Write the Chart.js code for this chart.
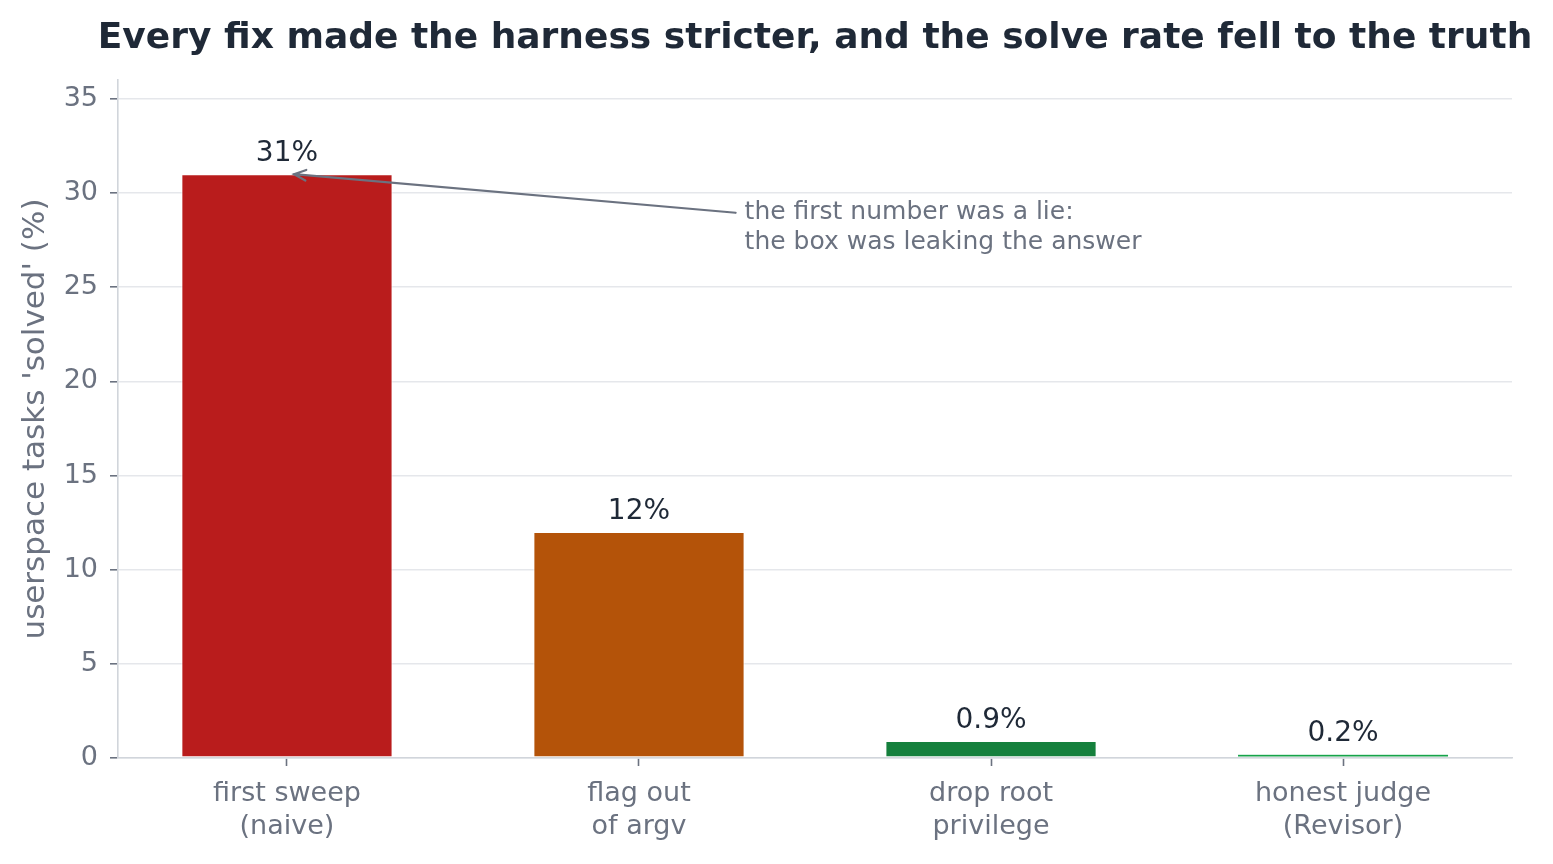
<!DOCTYPE html>
<html>
<head>
<meta charset="utf-8">
<script src="https://cdn.jsdelivr.net/npm/chart.js@4.4.1/dist/chart.umd.min.js"></script>
<style>
  html, body { margin: 0; padding: 0; background: #ffffff; }
  #wrap { width: 1553px; height: 864px; }
</style>
</head>
<body>
<div id="wrap"><canvas id="solveChart" width="1553" height="864"></canvas></div>
<script>
// --- data ---
const categories = [
    ['first sweep', '(naive)'],
    ['flag out', 'of argv'],
    ['drop root', 'privilege'],
    ['honest judge', '(Revisor)']
];
const solveRates = [31, 12, 0.9, 0.2];
const valueLabels = ['31%', '12%', '0.9%', '0.2%'];
const barColors = ['#b91c1c', '#b45309', '#15803d', '#16a34a'];
const yTicks = [0, 5, 10, 15, 20, 25, 30, 35];

const titleText = 'Every fix made the harness stricter, and the solve rate fell to the truth';
const yAxisTitle = "userspace tasks 'solved' (%)";
const noteLines = ['the first number was a lie:', 'the box was leaking the answer'];
// arrow tip (on first bar) and note anchor, in data units
const noteTip = { x: 0.02, y: 31.0 };
const noteAnchor = { x: 1.30, y: 28.95 };

const INK = '#1f2937';
const MUTED = '#6b7280';
const FONT = '"DejaVu Sans", Verdana, sans-serif';

// title, value labels and the annotation arrow
const figureText = {
    id: 'figureText',
    afterDatasetsDraw(chart) {
        const { ctx, chartArea, scales } = chart;
        const meta = chart.getDatasetMeta(0);
        ctx.save();

        // value labels above bars
        ctx.fillStyle = INK;
        ctx.font = `28px ${FONT}`;
        ctx.textAlign = 'center';
        ctx.textBaseline = 'alphabetic';
        meta.data.forEach((bar, i) => {
            ctx.fillText(valueLabels[i], bar.x, bar.y - 13);
        });

        // annotation text
        const nx = scales.x.getPixelForValue(noteAnchor.x);
        const ny = scales.y.getPixelForValue(noteAnchor.y);
        ctx.fillStyle = MUTED;
        ctx.font = `25px ${FONT}`;
        ctx.textAlign = 'left';
        ctx.textBaseline = 'middle';
        noteLines.forEach((line, i) => ctx.fillText(line, nx, ny + i * 30));

        // arrow from note to the first bar
        const tx = scales.x.getPixelForValue(noteTip.x);
        const ty = scales.y.getPixelForValue(noteTip.y);
        const sx = nx - 9;
        const sy = ny;
        ctx.strokeStyle = MUTED;
        ctx.lineWidth = 2.2;
        ctx.lineCap = 'round';
        ctx.beginPath();
        ctx.moveTo(sx, sy);
        ctx.lineTo(tx, ty);
        const ang = Math.atan2(sy - ty, sx - tx);
        const hl = 13, spread = 0.42;
        ctx.moveTo(tx + hl * Math.cos(ang + spread), ty + hl * Math.sin(ang + spread));
        ctx.lineTo(tx, ty);
        ctx.lineTo(tx + hl * Math.cos(ang - spread), ty + hl * Math.sin(ang - spread));
        ctx.stroke();

        // title
        ctx.fillStyle = INK;
        ctx.font = `bold 36px ${FONT}`;
        ctx.textAlign = 'center';
        ctx.textBaseline = 'alphabetic';
        ctx.fillText(titleText, (chartArea.left + chartArea.right) / 2, 48);

        // y axis title
        ctx.translate(36, (chartArea.top + chartArea.bottom) / 2);
        ctx.rotate(-Math.PI / 2);
        ctx.fillStyle = MUTED;
        ctx.font = `31px ${FONT}`;
        ctx.textAlign = 'center';
        ctx.textBaseline = 'middle';
        ctx.fillText(yAxisTitle, 0, 0);
        ctx.restore();
    }
};

new Chart(document.getElementById('solveChart'), {
    type: 'bar',
    data: {
        datasets: [{
            data: solveRates.map((v, i) => ({ x: i, y: v })),
            backgroundColor: barColors,
            borderColor: '#ffffff',
            // thin edge on the last bar so the 0.2% sliver stays green
            borderWidth: [1, 1, 1, 0.6],
            borderSkipped: false,
            barPercentage: 0.6,
            categoryPercentage: 1.0
        }]
    },
    options: {
        responsive: false,
        animation: false,
        devicePixelRatio: 1,
        layout: { padding: { top: 80, right: 41, bottom: 0, left: 0 } },
        plugins: {
            legend: { display: false },
            tooltip: { enabled: false }
        },
        scales: {
            x: {
                type: 'linear',
                min: -0.48,
                max: 3.48,
                offset: false,
                afterBuildTicks: scale => { scale.ticks = categories.map((c, i) => ({ value: i })); },
                afterFit: scale => { scale.height = 106; },
                ticks: {
                    callback: v => categories[v],
                    color: MUTED,
                    font: { family: FONT, size: 27, lineHeight: 1.22 },
                    padding: 12,
                    maxRotation: 0,
                    autoSkip: false
                },
                grid: { offset: false, drawOnChartArea: false, tickLength: 8, tickColor: MUTED, tickWidth: 1.6 },
                border: { color: '#d1d5db', width: 1.6 }
            },
            y: {
                min: 0,
                max: 36,
                afterBuildTicks: scale => { scale.ticks = yTicks.map(v => ({ value: v })); },
                afterFit: scale => { scale.width = 118; },
                ticks: {
                    color: MUTED,
                    font: { family: FONT, size: 27 },
                    padding: 12
                },
                grid: { color: '#e5e7eb', lineWidth: 1.6, tickLength: 8, tickColor: MUTED, tickWidth: 1.6 },
                border: { color: '#d1d5db', width: 1.6 }
            }
        }
    },
    plugins: [figureText]
});
</script>
</body>
</html>
